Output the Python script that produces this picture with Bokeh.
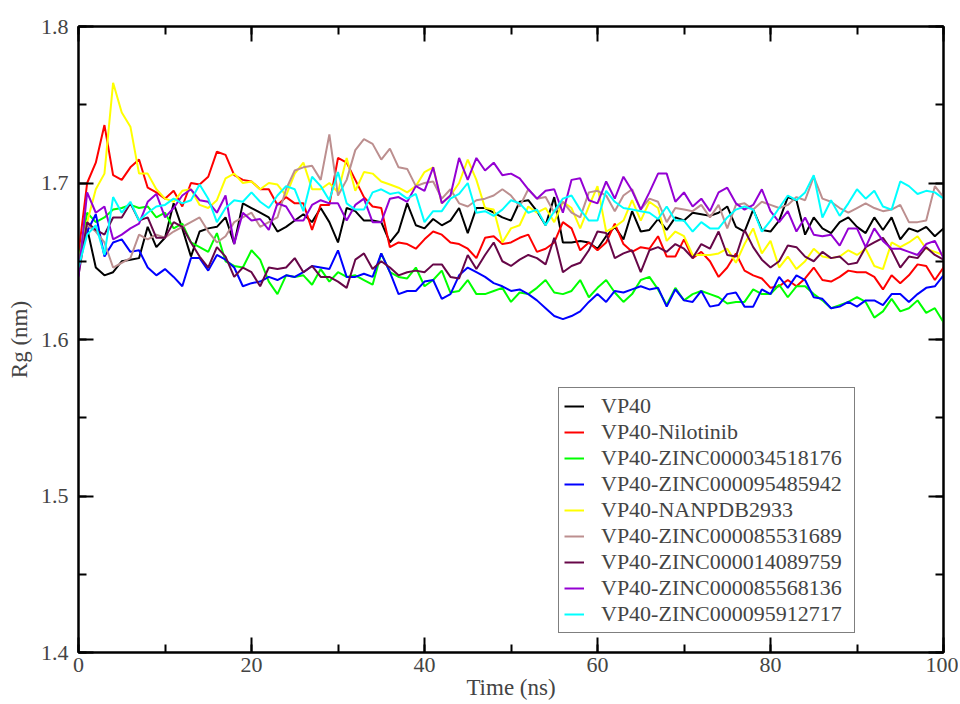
from bokeh.plotting import figure
from bokeh.models import Range1d, FixedTicker, LinearAxis, Legend, LegendItem, PrintfTickFormatter, CustomJSTickFormatter
from bokeh.embed import file_html
from bokeh.resources import INLINE

time = list(range(0, 101))

vp40 = [1.650, 1.671, 1.646, 1.641, 1.643, 1.650, 1.651, 1.652, 1.672, 1.659, 1.665, 1.687, 1.671, 1.653, 1.669, 1.671, 1.672, 1.678,
        1.661, 1.687, 1.684, 1.681, 1.678, 1.669, 1.672, 1.676, 1.680, 1.675, 1.684, 1.675, 1.662, 1.684, 1.682, 1.676,
        1.676, 1.675, 1.662, 1.669, 1.687, 1.673, 1.671, 1.677, 1.673, 1.676, 1.684, 1.668, 1.684, 1.684, 1.681, 1.678, 1.676,
        1.688, 1.689, 1.682, 1.673, 1.691, 1.662, 1.662, 1.663, 1.662, 1.658, 1.666, 1.672, 1.664, 1.682, 1.669, 1.670,
        1.677, 1.670, 1.678, 1.676, 1.681, 1.680, 1.679, 1.681, 1.685, 1.672, 1.669, 1.683, 1.670, 1.669, 1.676, 1.691, 1.689,
        1.667, 1.678, 1.671, 1.668, 1.675, 1.678, 1.672, 1.668, 1.678, 1.670, 1.678, 1.664, 1.671, 1.669, 1.672, 1.666, 1.671]

nilotinib = [1.655, 1.700, 1.713, 1.737, 1.705, 1.702, 1.710, 1.715, 1.697, 1.694, 1.690, 1.695, 1.685, 1.700, 1.699, 1.704, 1.720, 1.718,
             1.705, 1.702, 1.701, 1.696, 1.696, 1.686, 1.691, 1.687, 1.687, 1.670, 1.686, 1.686, 1.716, 1.713, 1.702, 1.691,
             1.685, 1.684, 1.659, 1.662, 1.661, 1.658, 1.664, 1.669, 1.667, 1.662, 1.661, 1.658, 1.652, 1.665, 1.666, 1.661, 1.662,
             1.665, 1.667, 1.656, 1.658, 1.662, 1.675, 1.671, 1.657, 1.662, 1.657, 1.662, 1.674, 1.661, 1.656, 1.659, 1.658,
             1.666, 1.653, 1.653, 1.664, 1.652, 1.656, 1.650, 1.640, 1.646, 1.655, 1.644, 1.641, 1.639, 1.633, 1.634, 1.638, 1.634,
             1.639, 1.646, 1.638, 1.637, 1.640, 1.644, 1.643, 1.643, 1.640, 1.632, 1.641, 1.636, 1.641, 1.648, 1.647, 1.638, 1.646]

zinc34518176 = [1.650, 1.681, 1.675, 1.678, 1.683, 1.684, 1.686, 1.684, 1.685, 1.678, 1.681, 1.671, 1.674, 1.662, 1.659, 1.656, 1.668, 1.650,
                1.647, 1.646, 1.657, 1.651, 1.637, 1.629, 1.641, 1.640, 1.641, 1.635, 1.645, 1.637, 1.643, 1.640, 1.641, 1.638,
                1.635, 1.655, 1.643, 1.640, 1.639, 1.646, 1.634, 1.638, 1.644, 1.630, 1.631, 1.638, 1.629, 1.629, 1.631, 1.633, 1.624,
                1.630, 1.629, 1.633, 1.638, 1.630, 1.629, 1.631, 1.638, 1.627, 1.633, 1.638, 1.630, 1.624, 1.629, 1.638, 1.640,
                1.632, 1.622, 1.633, 1.625, 1.629, 1.631, 1.629, 1.627, 1.623, 1.624, 1.624, 1.632, 1.629, 1.629, 1.635, 1.627, 1.634,
                1.634, 1.629, 1.625, 1.620, 1.622, 1.624, 1.627, 1.624, 1.614, 1.618, 1.626, 1.618, 1.620, 1.625, 1.617, 1.620, 1.611]

zinc95485942 = [1.648, 1.669, 1.680, 1.653, 1.662, 1.664, 1.656, 1.657, 1.646, 1.641, 1.645, 1.640, 1.634, 1.652, 1.652, 1.644, 1.654, 1.651,
                1.646, 1.634, 1.636, 1.637, 1.640, 1.638, 1.641, 1.640, 1.643, 1.647, 1.646, 1.645, 1.657, 1.640, 1.640, 1.642,
                1.640, 1.655, 1.643, 1.629, 1.631, 1.631, 1.637, 1.638, 1.626, 1.629, 1.641, 1.646, 1.643, 1.640, 1.636, 1.634, 1.631,
                1.632, 1.629, 1.625, 1.620, 1.615, 1.613, 1.615, 1.618, 1.624, 1.629, 1.624, 1.631, 1.630, 1.632, 1.634, 1.632,
                1.633, 1.621, 1.632, 1.625, 1.624, 1.631, 1.621, 1.622, 1.629, 1.630, 1.621, 1.621, 1.632, 1.629, 1.640, 1.633, 1.641,
                1.638, 1.627, 1.626, 1.620, 1.621, 1.624, 1.621, 1.625, 1.625, 1.622, 1.629, 1.629, 1.624, 1.629, 1.633, 1.634, 1.641]

nanpdb2933 = [1.650, 1.675, 1.696, 1.706, 1.764, 1.745, 1.736, 1.706, 1.706, 1.696, 1.690, 1.688, 1.695, 1.696, 1.686, 1.684, 1.689, 1.703,
              1.706, 1.700, 1.701, 1.696, 1.700, 1.699, 1.692, 1.706, 1.713, 1.696, 1.696, 1.700, 1.694, 1.716, 1.695, 1.707,
              1.706, 1.701, 1.699, 1.697, 1.694, 1.698, 1.707, 1.710, 1.687, 1.692, 1.700, 1.715, 1.702, 1.684, 1.683, 1.662, 1.671,
              1.673, 1.685, 1.681, 1.684, 1.675, 1.688, 1.684, 1.671, 1.685, 1.698, 1.669, 1.672, 1.676, 1.689, 1.676, 1.688,
              1.684, 1.663, 1.669, 1.666, 1.654, 1.654, 1.654, 1.655, 1.658, 1.649, 1.661, 1.671, 1.655, 1.663, 1.646, 1.653, 1.645,
              1.650, 1.658, 1.653, 1.652, 1.653, 1.657, 1.654, 1.658, 1.647, 1.645, 1.662, 1.659, 1.662, 1.666, 1.658, 1.656, 1.654]

zinc85531689 = [1.650, 1.673, 1.669, 1.662, 1.646, 1.649, 1.652, 1.667, 1.664, 1.667, 1.665, 1.669, 1.672, 1.675, 1.678, 1.669, 1.662, 1.666,
                1.675, 1.678, 1.681, 1.672, 1.675, 1.678, 1.696, 1.708, 1.710, 1.711, 1.702, 1.731, 1.692, 1.702, 1.721, 1.728,
                1.725, 1.715, 1.722, 1.710, 1.709, 1.698, 1.700, 1.701, 1.690, 1.696, 1.687, 1.685, 1.689, 1.690, 1.692, 1.696, 1.692,
                1.685, 1.696, 1.690, 1.691, 1.681, 1.688, 1.681, 1.678, 1.694, 1.695, 1.692, 1.682, 1.692, 1.696, 1.683, 1.690,
                1.688, 1.675, 1.684, 1.683, 1.682, 1.686, 1.678, 1.686, 1.671, 1.686, 1.687, 1.683, 1.688, 1.686, 1.684, 1.686, 1.691,
                1.689, 1.704, 1.690, 1.688, 1.684, 1.681, 1.684, 1.687, 1.684, 1.682, 1.683, 1.686, 1.675, 1.675, 1.676, 1.698, 1.691]

zinc14089759 = [1.641, 1.675, 1.670, 1.667, 1.678, 1.678, 1.687, 1.676, 1.678, 1.665, 1.665, 1.675, 1.672, 1.662, 1.653, 1.646, 1.659, 1.653,
                1.640, 1.646, 1.643, 1.634, 1.646, 1.645, 1.646, 1.652, 1.643, 1.647, 1.640, 1.640, 1.637, 1.633, 1.651, 1.655,
                1.645, 1.650, 1.646, 1.641, 1.643, 1.644, 1.643, 1.648, 1.648, 1.640, 1.639, 1.654, 1.645, 1.654, 1.662, 1.650, 1.647,
                1.651, 1.654, 1.652, 1.648, 1.665, 1.643, 1.647, 1.649, 1.657, 1.669, 1.668, 1.652, 1.655, 1.657, 1.643, 1.657,
                1.659, 1.656, 1.661, 1.658, 1.652, 1.661, 1.658, 1.669, 1.654, 1.653, 1.670, 1.659, 1.651, 1.646, 1.650, 1.660, 1.659,
                1.653, 1.650, 1.656, 1.652, 1.653, 1.648, 1.649, 1.659, 1.662, 1.665, 1.657, 1.646, 1.653, 1.652, 1.659, 1.654, 1.651]

zinc85568136 = [1.640, 1.694, 1.681, 1.685, 1.664, 1.667, 1.671, 1.674, 1.688, 1.693, 1.678, 1.684, 1.692, 1.696, 1.689, 1.688, 1.681, 1.692,
                1.661, 1.681, 1.676, 1.677, 1.670, 1.687, 1.685, 1.676, 1.676, 1.686, 1.689, 1.687, 1.687, 1.676, 1.686, 1.690,
                1.675, 1.675, 1.690, 1.691, 1.688, 1.698, 1.695, 1.710, 1.687, 1.692, 1.716, 1.702, 1.716, 1.708, 1.713, 1.705, 1.706,
                1.703, 1.696, 1.690, 1.695, 1.696, 1.681, 1.702, 1.703, 1.689, 1.687, 1.701, 1.690, 1.704, 1.695, 1.683, 1.694,
                1.706, 1.706, 1.688, 1.694, 1.685, 1.690, 1.682, 1.694, 1.697, 1.687, 1.683, 1.686, 1.696, 1.682, 1.675, 1.682, 1.669,
                1.678, 1.667, 1.666, 1.667, 1.660, 1.671, 1.671, 1.659, 1.671, 1.663, 1.658, 1.658, 1.656, 1.654, 1.661, 1.663, 1.652]

zinc95912717 = [1.646, 1.667, 1.673, 1.654, 1.691, 1.681, 1.688, 1.676, 1.681, 1.685, 1.686, 1.690, 1.687, 1.689, 1.699, 1.690, 1.675, 1.684,
                1.689, 1.688, 1.694, 1.688, 1.684, 1.692, 1.698, 1.696, 1.682, 1.704, 1.698, 1.689, 1.707, 1.687, 1.683, 1.683,
                1.694, 1.696, 1.693, 1.694, 1.690, 1.693, 1.675, 1.682, 1.682, 1.690, 1.693, 1.700, 1.681, 1.682, 1.679, 1.683, 1.689,
                1.687, 1.681, 1.683, 1.673, 1.682, 1.690, 1.692, 1.683, 1.676, 1.676, 1.695, 1.688, 1.684, 1.683, 1.682, 1.681,
                1.677, 1.685, 1.676, 1.676, 1.669, 1.675, 1.671, 1.671, 1.678, 1.683, 1.685, 1.683, 1.669, 1.676, 1.684, 1.692, 1.689,
                1.694, 1.705, 1.678, 1.689, 1.679, 1.687, 1.696, 1.690, 1.695, 1.685, 1.683, 1.701, 1.698, 1.693, 1.695, 1.694, 1.690]

labels = ["VP40", "VP40-Nilotinib", "VP40-ZINC000034518176", "VP40-ZINC000095485942", "VP40-NANPDB2933",
          "VP40-ZINC000085531689", "VP40-ZINC000014089759", "VP40-ZINC000085568136", "VP40-ZINC000095912717"]
series = [vp40, nilotinib, zinc34518176, zinc95485942, nanpdb2933, zinc85531689, zinc14089759, zinc85568136, zinc95912717]
colors = ["#000000", "#ff0000", "#00ff00", "#0000ff", "#ffff00", "#bc8f8f", "#670748", "#9400d3", "#00ffff"]

x_major = [0, 20, 40, 60, 80, 100]
x_minor = [0, 10, 20, 30, 40, 50, 60, 70, 80, 90, 100]
y_major = [1.4, 1.5, 1.6, 1.7, 1.8]
y_minor = [1.4, 1.45, 1.5, 1.55, 1.6, 1.65, 1.7, 1.75, 1.8]

FONT = "Liberation Serif"

p = figure(width=958, height=702, output_backend="svg", toolbar_location=None,
           x_range=Range1d(0, 100), y_range=Range1d(1.4, 1.8),
           min_border_left=78, min_border_right=15, min_border_top=26, min_border_bottom=50)
p.xgrid.visible = False
p.ygrid.visible = False
p.outline_line_color = "black"
p.outline_line_width = 2
p.background_fill_color = "white"
p.border_fill_color = "white"

blank = CustomJSTickFormatter(code="return '';")

def style_axis(ax, show_labels):
    ax.major_tick_in = 15
    ax.major_tick_out = 0
    ax.minor_tick_in = 8
    ax.minor_tick_out = 0
    ax.axis_line_width = 2
    ax.major_tick_line_width = 2
    ax.minor_tick_line_width = 2
    ax.major_label_text_font = FONT
    ax.axis_label_text_font = FONT
    ax.axis_label_text_font_style = "normal"
    ax.axis_label_text_font_size = "23px"
    if show_labels:
        ax.major_label_text_font_size = "22px"
    else:
        ax.formatter = blank
        ax.major_label_text_font_size = "1px"
        ax.major_label_standoff = 0

p.xaxis.ticker = FixedTicker(ticks=x_major, minor_ticks=x_minor)
p.yaxis.ticker = FixedTicker(ticks=y_major, minor_ticks=y_minor)
p.yaxis.formatter = PrintfTickFormatter(format="%.1f")
style_axis(p.xaxis[0], True)
style_axis(p.yaxis[0], True)
p.xaxis.axis_label = "Time (ns)"
p.yaxis.axis_label = "Rg (nm)"
p.xaxis.major_label_standoff = 5
p.xaxis.axis_label_standoff = 0
p.yaxis.major_label_standoff = 10
p.yaxis.axis_label_standoff = 6

top = LinearAxis(ticker=FixedTicker(ticks=x_major, minor_ticks=x_minor))
style_axis(top, False)
p.add_layout(top, "above")
right = LinearAxis(ticker=FixedTicker(ticks=y_major, minor_ticks=y_minor))
style_axis(right, False)
p.add_layout(right, "right")

items = []
for lab, ys, c in zip(labels, series, colors):
    r = p.line(time, ys, line_color=c, line_width=2)
    items.append(LegendItem(label=lab, renderers=[r]))

legend = Legend(items=items, location=(480, 19))
legend.label_text_font = FONT
legend.label_text_font_size = "22px"
legend.label_text_line_height = 1.0
legend.glyph_width = 20
legend.glyph_height = 22
legend.label_height = 22
legend.label_width = 248
legend.label_standoff = 17
legend.spacing = -2
legend.padding = 5
legend.margin = 0
legend.border_line_color = "black"
legend.border_line_width = 1.5
legend.background_fill_alpha = 1.0
p.add_layout(legend)

open("out.html", "w").write(file_html(p, INLINE))
